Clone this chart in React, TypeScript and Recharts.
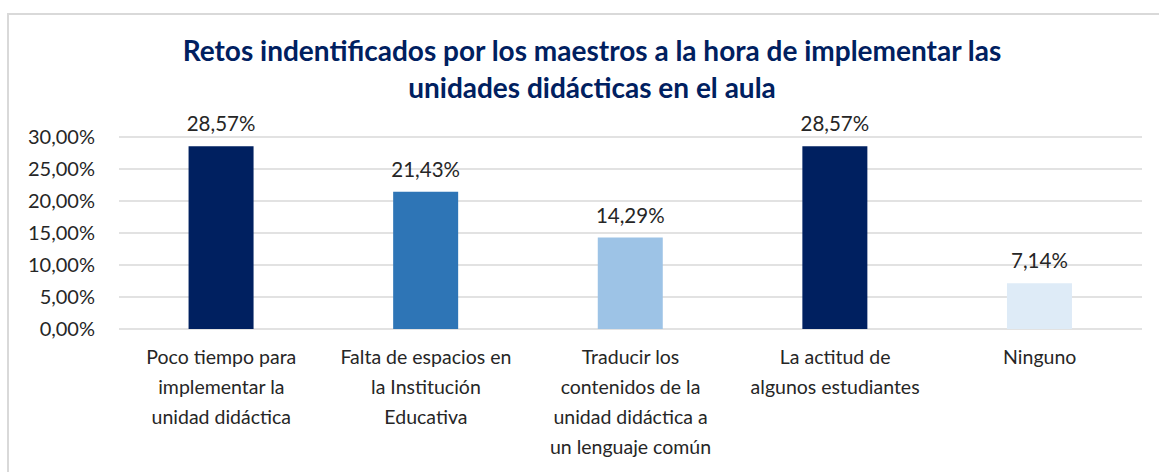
import React from "react";
import { BarChart, Bar, XAxis, YAxis, CartesianGrid, Cell, LabelList } from "recharts";

const categories = [
  "Poco tiempo para\nimplementar la\nunidad didáctica",
  "Falta de espacios en\nla Institución\nEducativa",
  "Traducir los\ncontenidos de la\nunidad didáctica a\nun lenguaje común",
  "La actitud de\nalgunos estudiantes",
  "Ninguno",
];
const values = [0.2857, 0.2143, 0.1429, 0.2857, 0.0714];
const barColors = ["#002060", "#2E75B6", "#9DC3E6", "#002060", "#DEEBF7"];
const yTicks = [0, 0.05, 0.1, 0.15, 0.2, 0.25, 0.3];

const FONT = "Lato, 'Open Sans', sans-serif";
const TEXT = "#262626";

const data = categories.map((name, i) => ({ name, value: values[i] }));

const pct = (v: number) => (v * 100).toFixed(2).replace(".", ",") + "%";

const CategoryTick = (props: any) => {
  const { x, y, payload } = props;
  const lines = String(payload.value).split("\n");
  return (
    <g transform={`translate(${x},${y})`}>
      {lines.map((line: string, i: number) => (
        <text
          key={i}
          x={0}
          y={22 + i * 30}
          textAnchor="middle"
          fontSize={19.5}
          fontFamily={FONT}
          fill={TEXT}
          dominantBaseline="middle"
        >
          {line}
        </text>
      ))}
    </g>
  );
};

export default function App() {
  return (
    <div style={{ position: "absolute", left: 0, top: 0, width: 1159, height: 472, background: "#fff", overflow: "hidden" }}>
      <div
        style={{
          position: "absolute",
          left: 7,
          top: 13,
          width: 1200,
          height: 500,
          borderTop: "2px solid #d9d9d9",
          borderLeft: "2px solid #d9d9d9",
        }}
      />
      <div
        style={{
          position: "absolute",
          left: 0,
          top: 32,
          width: 1184,
          textAlign: "center",
          fontFamily: FONT,
          fontWeight: 700,
          fontSize: 28,
          lineHeight: "37px",
          color: "#002060",
        }}
      >
        Retos indentificados por los maestros a la hora de implementar las
        <br />
        unidades didácticas en el aula
      </div>
      <div style={{ position: "absolute", left: 0, top: 0 }}>
        <BarChart
          width={1159}
          height={472}
          data={data}
          margin={{ top: 137, right: 17, bottom: 0, left: 0 }}
          barCategoryGap="34%"
        >
          <CartesianGrid vertical={false} stroke="#d9d9d9" strokeWidth={1.5} />
          <XAxis
            dataKey="name"
            axisLine={false}
            tickLine={false}
            interval={0}
            height={143}
            tick={<CategoryTick />}
          />
          <YAxis
            domain={[0, 0.3]}
            ticks={yTicks}
            width={119}
            axisLine={false}
            tickLine={false}
            tickFormatter={pct}
            tick={{ fontSize: 20, fontFamily: FONT, fill: TEXT }}
            tickMargin={18}
          />
          <Bar dataKey="value" isAnimationActive={false}>
            {data.map((d, i) => (
              <Cell key={`cell-${i}`} fill={barColors[i]} />
            ))}
            <LabelList
              dataKey="value"
              position="top"
              offset={15}
              formatter={(v: any) => pct(Number(v))}
              style={{ fontSize: 20.5, fontFamily: FONT, fill: TEXT }}
            />
          </Bar>
        </BarChart>
      </div>
    </div>
  );
}
